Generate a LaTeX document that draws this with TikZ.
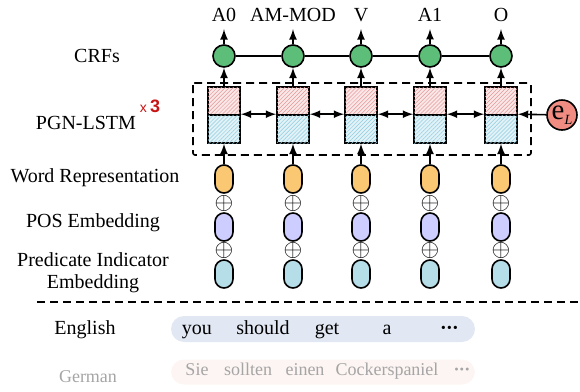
\documentclass[tikz,border=0pt]{standalone}
\usepackage{fontspec}
\setmainfont{Liberation Serif}
\newfontfamily\arialfont{Liberation Sans}
\usetikzlibrary{patterns.meta}

\definecolor{crfgreen}{RGB}{92,190,120}
\definecolor{wordyellow}{RGB}{250,200,115}
\definecolor{pospurple}{RGB}{205,205,255}
\definecolor{predblue}{RGB}{182,222,232}
\definecolor{cellred}{RGB}{250,232,232}
\definecolor{cellblue}{RGB}{226,242,247}
\definecolor{hatchred}{RGB}{232,150,150}
\definecolor{hatchblue}{RGB}{140,205,225}
\definecolor{elsalmon}{RGB}{240,140,130}
\definecolor{enbar}{RGB}{225,232,243}
\definecolor{debar}{RGB}{253,245,243}
\definecolor{detext}{RGB}{165,165,165}
\definecolor{xred}{RGB}{200,20,20}

\begin{document}
\begin{tikzpicture}[x=0.5pt,y=-0.5pt,>=latex,
        line width=0.8pt,
        crf node/.style={circle,draw,fill=crfgreen,minimum size=11pt,inner sep=0pt},
        fw cell/.style={rectangle,draw,fill=cellred,minimum width=16pt,minimum height=14pt,inner sep=0pt,
            postaction={pattern={Lines[angle=45,distance=1.4pt,line width=0.25pt]},pattern color=hatchred}},
        bw cell/.style={rectangle,draw,fill=cellblue,minimum width=16pt,minimum height=14pt,inner sep=0pt,
            postaction={pattern={Lines[angle=45,distance=1.4pt,line width=0.25pt]},pattern color=hatchblue}},
        emb node/.style={rectangle,draw,rounded corners=4.5pt,minimum width=9pt,minimum height=14pt,inner sep=0pt},
        plus node/.style={inner sep=0pt,font=\large},
        side label/.style={align=center,inner sep=1pt},
        word/.style={text height=1.6ex,text depth=0.3ex,inner sep=0pt}]

    \useasboundingbox (0,0) rectangle (580,392);

    % left labels
    \node[side label] (crflab) at (97,56) {CRFs};
    \node[side label] (lstmlab) at (86,123) {PGN-LSTM};
    \node[text=xred,inner sep=0pt] (layers) at (150,106) {\arialfont{\scriptsize x}\,\textbf{\small 3}};
    \node[side label] (wordlab) at (95,178) {Word Representation};
    \node[side label] (poslab) at (93,223) {POS Embedding};
    \node[side label,align=center] (predlab) at (93,273) {Predicate Indicator\\[-1pt]Embedding};

    % PGN-LSTM box
    \draw[dashed,dash pattern=on 4pt off 2.5pt,rounded corners=1pt] (193,83) rectangle (531,155);

    % columns
    \foreach \x/\tag [count=\i] in {224/A0,293/AM-MOD,361/V,430/A1,501/O} {
        \node (out\i) at (\x,15) {\tag};
        \node[crf node] (crf\i) at (\x,56) {};
        \node[fw cell] (fw\i) at (\x,101) {};
        \node[bw cell] (bw\i) at (\x,129) {};
        \node[emb node,fill=wordyellow] (wr\i) at (\x,179) {};
        \node[plus node] (pa\i) at (\x,203) {$\oplus$};
        \node[emb node,fill=pospurple] (pos\i) at (\x,227) {};
        \node[plus node] (pb\i) at (\x,250) {$\oplus$};
        \node[emb node,fill=predblue] (pi\i) at (\x,274) {};
        \draw[->] (crf\i) -- (out\i);
        \draw[->] (fw\i) -- (crf\i);
        \draw[->] (wr\i) -- (bw\i);
    }

    \path
    (crf1) edge (crf2)
    (crf2) edge (crf3)
    (crf3) edge (crf4)
    (crf4) edge (crf5);

    \path[<->]
    (bw1.north east) edge (bw2.north west)
    (bw2.north east) edge (bw3.north west)
    (bw3.north east) edge (bw4.north west)
    (bw4.north east) edge (bw5.north west);

    % language embedding
    \node[circle,draw,fill=elsalmon,minimum size=15pt,inner sep=0pt] (el) at (562,115)
        {\Large e\raisebox{-0.4ex}{\scriptsize\itshape L}};
    \draw[->] (el) -- (bw5.north east);

    % separator
    \draw[dashed,dash pattern=on 4pt off 2.5pt] (37,302) -- (580,302);

    % sentences
    \node[word] (english) at (85,329) {English};
    \node[fill=enbar,rounded corners=6.5pt,minimum width=152pt,minimum height=13pt,inner sep=0pt] (enbar) at (323,329) {};
    \node[word] (en1) at (197,329) {you};
    \node[word] (en2) at (263,329) {should};
    \node[word] (en3) at (327,329) {get};
    \node[word] (en4) at (387,329) {a};
    \node[word] (en5) at (450,329) {\bfseries\kern-0.5pt·\kern-0.3pt·\kern-0.3pt·};

    \node[word,text=detext,font=\small] (german) at (88,377) {German};
    \node[fill=debar,rounded corners=6.5pt,minimum width=152pt,minimum height=12.5pt,inner sep=0pt] (debar) at (323,372) {};
    \node[word,text=detext,font=\small] (de1) at (197,370) {Sie};
    \node[word,text=detext,font=\small] (de2) at (248,370) {sollten};
    \node[word,text=detext,font=\small] (de3) at (305,370) {einen};
    \node[word,text=detext,font=\small] (de4) at (387,370) {Cockerspaniel};
    \node[word,text=detext,font=\small] (de5) at (462,370) {\bfseries·\kern-0.3pt·\kern-0.3pt·};
\end{tikzpicture}
\end{document}
